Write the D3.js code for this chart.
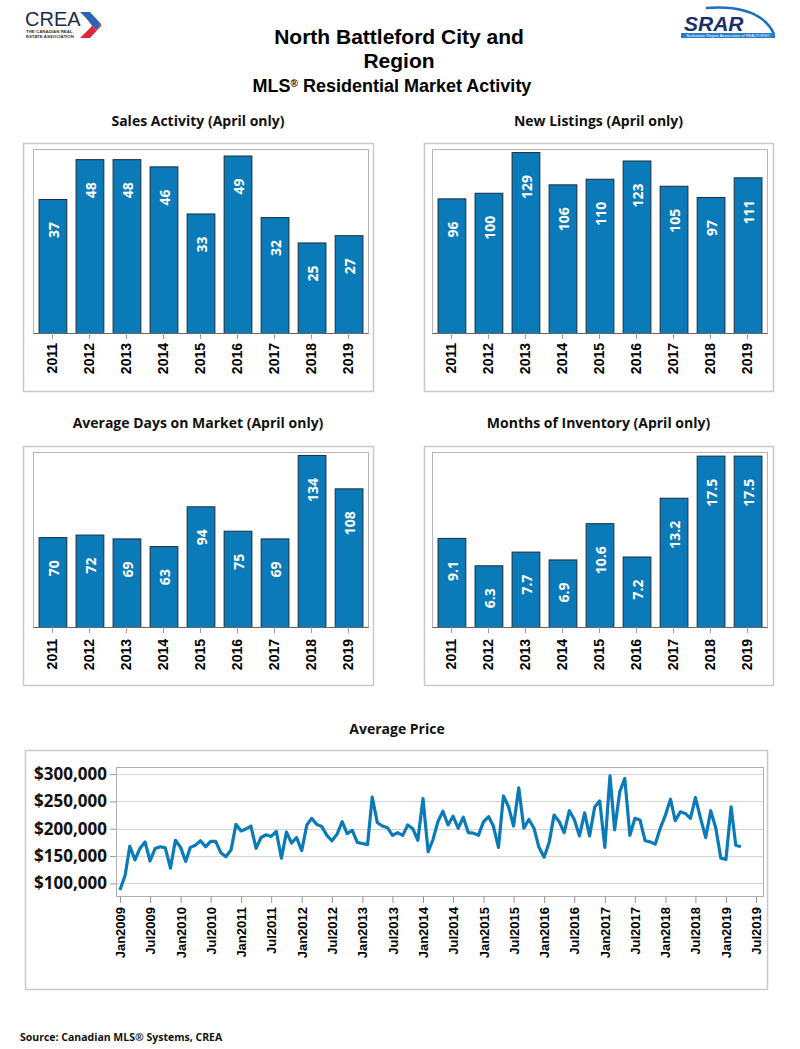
<!DOCTYPE html>
<html><head><meta charset="utf-8">
<script src="https://cdn.jsdelivr.net/npm/d3@7"></script>
<style>
html,body{margin:0;padding:0;background:#fff;}
svg{display:block;}
</style></head>
<body>
<svg id="c" width="800" height="1049"></svg>
<script>
// ---------- DATA ----------
const years = ["2011","2012","2013","2014","2015","2016","2017","2018","2019"];
const salesActivity = [37,48,48,46,33,49,32,25,27];
const newListings = [96,100,129,106,110,123,105,97,111];
const daysOnMarket = [70,72,69,63,94,75,69,134,108];
const monthsInventory = [9.1,6.3,7.7,6.9,10.6,7.2,13.2,17.5,17.5];
const priceStart = "2009-01";
const averagePrice = [
 88000,115000,168000,143000,164000,176000,141000,164000,167000,165000,128000,179000,
 166000,140000,166000,170000,178000,167000,177000,177000,156000,149000,161000,208000,
 196000,200000,205000,164000,184000,189000,186000,195000,146000,194000,174000,184000,
 160000,207000,219000,208000,204000,188000,178000,190000,213000,191000,197000,175000,
 173000,171000,258000,211000,205000,202000,188000,193000,188000,207000,200000,179000,
 255000,158000,179000,213000,232000,207000,223000,201000,221000,193000,192000,188000,
 213000,222000,205000,166000,260000,240000,205000,275000,201000,217000,201000,166000,
 148000,176000,225000,213000,193000,233000,217000,187000,229000,187000,240000,251000,
 166000,297000,198000,268000,292000,188000,219000,216000,178000,176000,172000,201000,
 225000,254000,215000,231000,228000,219000,257000,219000,184000,233000,201000,146000,
 144000,240000,170000,167000];
const priceTicks = [100000,150000,200000,250000,300000];
const dateTickStart = "2009-01", dateTickEnd = "2019-07";

// ---------- STYLE ----------
const BLUE = "#0a7bb8";
const svg = d3.select("#c");
svg.append("rect").attr("width",800).attr("height",1049).attr("fill","#fff");
const narrow = "'Liberation Sans Narrow','Arial Narrow','Liberation Sans',Arial,sans-serif";
const sans = "'Open Sans','Liberation Sans',Arial,sans-serif";
const arial = "'Liberation Sans',Arial,sans-serif";

// ---------- HEADER ----------
const hdr = svg.append("g").attr("font-family", narrow).attr("font-weight","bold").attr("fill","#000").attr("text-anchor","middle");
hdr.append("text").attr("x",399).attr("y",44).attr("font-size",21).text("North Battleford City and");
hdr.append("text").attr("x",399).attr("y",68).attr("font-size",21).text("Region");
const t3 = hdr.append("text").attr("x",392).attr("y",92).attr("font-size",18);
t3.append("tspan").text("MLS");
t3.append("tspan").attr("font-size",10).attr("dy",-5).text("®");
t3.append("tspan").attr("dy",5).text(" Residential Market Activity");

// CREA logo
const crea = svg.append("g");
crea.append("text").attr("x",25).attr("y",26).attr("font-family",narrow).attr("font-size",20).attr("fill","#1c2b4b").text("CREA");
crea.append("path").attr("d","M80,12 L90,12 L101,24 L96,30 L86,18 Z").attr("fill","#2d63b5");
crea.append("path").attr("d","M86,18 L96,30 L101,24 L101,26 L90,38 L80,38 L92,26 Z").attr("fill","#d8283a");
crea.append("text").attr("x",26).attr("y",33).attr("font-family",arial).attr("font-size",4.4).attr("font-weight","bold").attr("fill","#333").text("THE CANADIAN REAL");
crea.append("text").attr("x",26).attr("y",38).attr("font-family",arial).attr("font-size",4.4).attr("font-weight","bold").attr("fill","#333").text("ESTATE ASSOCIATION");

// SRAR logo
const srar = svg.append("g");
srar.append("path").attr("d","M706,8 Q760,4 774,34").attr("fill","none").attr("stroke","#1b6fc0").attr("stroke-width",2.5);
srar.append("text").attr("x",684).attr("y",31).attr("font-family",arial).attr("font-size",21).attr("font-weight","bold").attr("font-style","italic").attr("fill","#1b2f6a").text("SRAR");
srar.append("rect").attr("x",681).attr("y",33).attr("width",94).attr("height",5).attr("fill","#2a7cc7");
srar.append("text").attr("x",728).attr("y",37).attr("text-anchor","middle").attr("font-family",arial).attr("font-size",4).attr("fill","#fff").text("Saskatoon Region Association of REALTORS®");

// ---------- BAR CHARTS ----------
function barChart(cfg){
  const g = svg.append("g");
  const [bx0,by0,bx1,by1] = cfg.box;
  const [px0,py0,px1,py1] = cfg.plot;
  g.append("rect").attr("x",bx0+0.5).attr("y",by0+0.5).attr("width",bx1-bx0).attr("height",by1-by0)
    .attr("fill","#fff").attr("stroke","#c9c9c9").attr("stroke-width",1.5);
  g.append("text").attr("x",(bx0+bx1)/2).attr("y",cfg.titleY).attr("text-anchor","middle")
    .attr("font-family",sans).attr("font-weight","bold").attr("font-size",14).attr("fill","#111").text(cfg.title);
  const x = d3.scaleBand().domain(years).range([px0,px1]).paddingInner(0.25).paddingOuter(0.15);
  const y = d3.scaleLinear().domain([0,cfg.yMax]).range([py1,py0]);
  g.append("rect").attr("x",px0+0.5).attr("y",py0+0.5).attr("width",px1-px0).attr("height",py1-py0)
    .attr("fill","none").attr("stroke","#b5b5b5").attr("stroke-width",1);
  g.selectAll(".bar").data(cfg.values).join("rect")
    .attr("x",(d,i)=>x(years[i])+0.5).attr("y",d=>y(d)+0.5)
    .attr("width",x.bandwidth()).attr("height",d=>y(0)-y(d))
    .attr("fill",BLUE).attr("stroke","#1d2b38").attr("stroke-width",1);
  g.selectAll(".val").data(cfg.values).join("text")
    .attr("transform",(d,i)=>`translate(${x(years[i])+x.bandwidth()/2+1},${y(d)+23}) rotate(-90)`)
    .attr("text-anchor","end").attr("dominant-baseline","central")
    .attr("font-family",sans).attr("font-weight","bold").attr("font-size",14).attr("fill","#fff")
    .text(d=>d);
  const ax = d3.axisBottom(x).tickSize(6).tickSizeOuter(0).tickPadding(4);
  const axg = g.append("g").attr("transform",`translate(0,${py1})`).call(ax);
  axg.select(".domain").attr("stroke","#666").attr("stroke-width",1.2);
  axg.selectAll(".tick line").attr("stroke","#999");
  axg.selectAll(".tick text").attr("transform","translate(0,"+(cfg.labelGap-10)+") rotate(-90)")
    .attr("text-anchor","end").attr("dy","0.35em").attr("x",-10).attr("y",0)
    .attr("font-family",arial).attr("font-weight","bold").attr("font-size",14).attr("fill","#000");
}
barChart({title:"Sales Activity (April only)",values:salesActivity,yMax:50.8,
  box:[23,143,373,391],plot:[33,149,368,333],titleY:126,labelGap:10});
barChart({title:"New Listings (April only)",values:newListings,yMax:131.2,
  box:[424,143,773,391],plot:[432,149,767,333],titleY:126,labelGap:10});
barChart({title:"Average Days on Market (April only)",values:daysOnMarket,yMax:136.3,
  box:[23,446,373,685],plot:[33,452,368,627],titleY:428,labelGap:12});
barChart({title:"Months of Inventory (April only)",values:monthsInventory,yMax:17.87,
  box:[424,446,773,685],plot:[432,452,767,627],titleY:428,labelGap:12});

// ---------- LINE CHART ----------
(function(){
  const g = svg.append("g");
  g.append("rect").attr("x",25.5).attr("y",750.5).attr("width",742).attr("height",239)
    .attr("fill","#fff").attr("stroke","#c9c9c9").attr("stroke-width",1.5);
  g.append("text").attr("x",397).attr("y",734).attr("text-anchor","middle")
    .attr("font-family",sans).attr("font-weight","bold").attr("font-size",14).attr("fill","#111").text("Average Price");
  const parse = d3.timeParse("%Y-%m");
  const t0 = parse(priceStart);
  const dates = averagePrice.map((d,i)=>d3.timeMonth.offset(t0,i));
  const x = d3.scaleTime().domain([parse(dateTickStart),parse(dateTickEnd)]).range([120,756]);
  const y = d3.scaleLinear().domain([77000,313000]).range([896,767]);
  const px0=116, px1=763, py0=767, py1=896;
  g.append("g").selectAll("line").data(priceTicks).join("line")
    .attr("x1",px0).attr("x2",px1).attr("y1",d=>Math.round(y(d))+0.5).attr("y2",d=>Math.round(y(d))+0.5)
    .attr("stroke","#d4d4d4").attr("stroke-width",1.2);
  g.append("rect").attr("x",px0+0.5).attr("y",py0+0.5).attr("width",px1-px0).attr("height",py1-py0)
    .attr("fill","none").attr("stroke","#b0b0b0").attr("stroke-width",1);
  const ya = g.append("g").attr("transform",`translate(${px0},0)`)
    .call(d3.axisLeft(y).tickValues(priceTicks).tickFormat(d3.format("$,.0f")).tickSize(6).tickPadding(3));
  ya.select(".domain").remove();
  ya.selectAll(".tick line").attr("stroke","#999");
  ya.selectAll(".tick text").attr("font-family",sans).attr("font-weight","bold").attr("font-size",17).attr("fill","#111");
  const xa = g.append("g").attr("transform",`translate(0,${py1})`)
    .call(d3.axisBottom(x).ticks(d3.timeMonth.every(6)).tickFormat(d3.timeFormat("%b%Y")).tickSize(7).tickSizeOuter(0));
  xa.select(".domain").remove();
  xa.selectAll(".tick line").attr("stroke","#999");
  xa.selectAll(".tick text").attr("transform","rotate(-90)").attr("text-anchor","end")
    .attr("x",-11).attr("y",0).attr("dy","0.35em")
    .attr("font-family",arial).attr("font-weight","bold").attr("font-size",13).attr("fill","#000");
  const line = d3.line().x((d,i)=>x(dates[i])).y(d=>y(d));
  g.append("path").datum(averagePrice).attr("d",line).attr("fill","none")
    .attr("stroke",BLUE).attr("stroke-width",3.2).attr("stroke-linejoin","round");
})();

svg.append("text").attr("x",20).attr("y",1041).attr("font-family",sans).attr("font-weight","bold")
  .attr("font-size",10.5).attr("fill","#111").text("Source: Canadian MLS® Systems, CREA");
</script>
</body></html>
